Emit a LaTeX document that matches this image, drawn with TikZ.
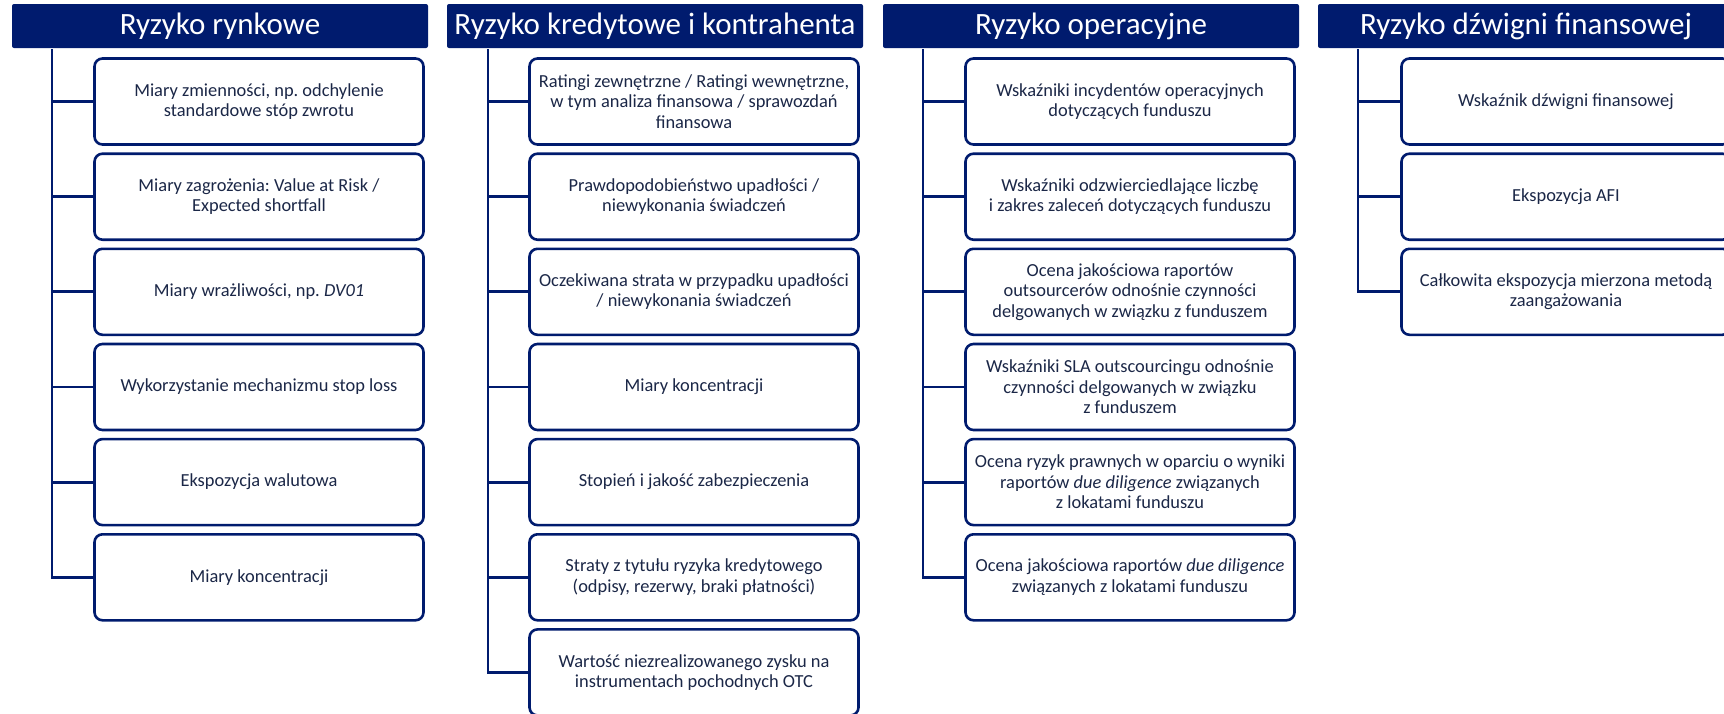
\documentclass[tikz,border=0pt]{standalone}
\usepackage{fontspec}
\setmainfont{Carlito}
\frenchspacing
\definecolor{navy}{HTML}{001B6E}
\definecolor{txt}{HTML}{1B2747}
\begin{document}
\begin{tikzpicture}[x=1pt,y=-1pt,
  header/.style={fill=navy,text=white,rounded corners=2pt,minimum width=416pt,minimum height=44pt,inner sep=0pt,font=\fontsize{31}{34}\selectfont},
  item/.style={draw=navy,line width=2.6pt,rounded corners=8pt,fill=white,minimum width=329pt,minimum height=86pt,align=center,inner sep=0pt,text=txt,font=\fontsize{18.4}{20.5}\selectfont},
  link/.style={draw=navy,line width=2.8pt}]
\useasboundingbox (0,0) rectangle (1724,713);
% headers
\node[header] (h1) at (220,26) {Ryzyko rynkowe};
\node[header] (h2) at (655,26) {Ryzyko kredytowe i kontrahenta};
\node[header] (h3) at (1091,26) {Ryzyko operacyjne};
\node[header] (h4) at (1526,26) {Ryzyko dźwigni finansowej};
% top coordinates of spines
\coordinate (s1) at (52,49);
\coordinate (s2) at (488,49);
\coordinate (s3) at (923,49);
\coordinate (s4) at (1358,49);
% column 1
\node[item] (a1) at (259,101.5) {Miary zmienności, np. odchylenie\\standardowe stóp zwrotu};
\node[item] (a2) at (259,196.7) {Miary zagrożenia: Value at Risk /\\Expected shortfall};
\node[item] (a3) at (259,291.8) {Miary wrażliwości, np. \textit{DV01}};
\node[item] (a4) at (259,387) {Wykorzystanie mechanizmu stop loss};
\node[item] (a5) at (259,482.1) {Ekspozycja walutowa};
\node[item] (a6) at (259,577.3) {Miary koncentracji};
% column 2
\node[item] (b1) at (694,101.5) {Ratingi zewnętrzne / Ratingi wewnętrzne,\\w tym analiza finansowa / sprawozdań\\finansowa};
\node[item] (b2) at (694,196.7) {Prawdopodobieństwo upadłości /\\niewykonania świadczeń};
\node[item] (b3) at (694,291.8) {Oczekiwana strata w przypadku upadłości\\/ niewykonania świadczeń};
\node[item] (b4) at (694,387) {Miary koncentracji};
\node[item] (b5) at (694,482.1) {Stopień i jakość zabezpieczenia};
\node[item] (b6) at (694,577.3) {Straty z tytułu ryzyka kredytowego\\(odpisy, rezerwy, braki płatności)};
\node[item] (b7) at (694,672.4) {Wartość niezrealizowanego zysku na\\instrumentach pochodnych OTC};
% column 3
\node[item] (c1) at (1130,101.5) {Wskaźniki incydentów operacyjnych\\dotyczących funduszu};
\node[item] (c2) at (1130,196.7) {Wskaźniki odzwierciedlające liczbę\\i zakres zaleceń dotyczących funduszu};
\node[item] (c3) at (1130,291.8) {Ocena jakościowa raportów\\outsourcerów odnośnie czynności\\delgowanych w związku z funduszem};
\node[item] (c4) at (1130,387) {Wskaźniki SLA outscourcingu odnośnie\\czynności delgowanych w związku\\z funduszem};
\node[item] (c5) at (1130,482.1) {Ocena ryzyk prawnych w oparciu o wyniki\\raportów \textit{due diligence} związanych\\z lokatami funduszu};
\node[item] (c6) at (1130,577.3) {Ocena jakościowa raportów \textit{due diligence}\\związanych z lokatami funduszu};
% column 4
\node[item] (d1) at (1566,101.5) {Wskaźnik dźwigni finansowej};
\node[item] (d2) at (1566,196.7) {Ekspozycja AFI};
\node[item] (d3) at (1566,291.8) {Całkowita ekspozycja mierzona metodą\\zaangażowania};
% spines
\draw[link] (s1) |- (a6.west);
\foreach \n in {a1,a2,a3,a4,a5} \draw[link] (\n.west) -- (\n.west -| s1);
\draw[link] (s2) |- (b7.west);
\foreach \n in {b1,b2,b3,b4,b5,b6} \draw[link] (\n.west) -- (\n.west -| s2);
\draw[link] (s3) |- (c6.west);
\foreach \n in {c1,c2,c3,c4,c5} \draw[link] (\n.west) -- (\n.west -| s3);
\draw[link] (s4) |- (d3.west);
\foreach \n in {d1,d2} \draw[link] (\n.west) -- (\n.west -| s4);
\end{tikzpicture}
\end{document}
